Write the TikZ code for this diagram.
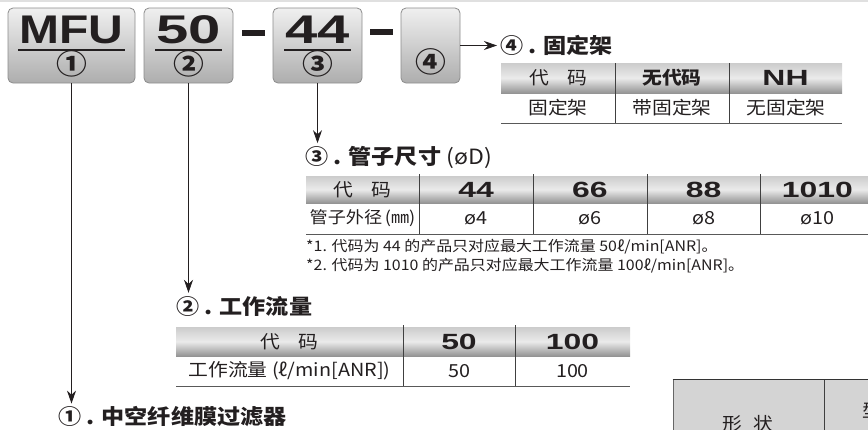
\documentclass[tikz,border=0pt]{standalone}
\usepackage{fontspec}
\setmainfont{Noto Sans CJK SC}[FakeStretch=1.1]
\newfontfamily\codefont{Liberation Sans}[FakeStretch=1.45]
\newfontfamily\mfufont{Liberation Sans}[FakeStretch=1.2]
\usetikzlibrary{positioning, arrows.meta}
\definecolor{ink}{HTML}{231F20}

\begin{document}
\begin{tikzpicture}[x=1pt, y=-1pt, every node/.style={text=ink},
  codebox/.style={draw=black!45, line width=0.8pt, rounded corners=5pt, top color=black!6, bottom color=black!32, minimum height=75pt, inner sep=0pt, outer sep=0pt},
  dashbar/.style={fill=ink, minimum width=23pt, minimum height=6pt, inner sep=0pt},
  codetxt/.style={font=\fontsize{40}{40}\selectfont\bfseries, inner xsep=1pt, inner ysep=0pt},
  numtxt/.style={font=\fontsize{28}{28}\selectfont\bfseries, inner sep=0pt},
  uline/.style={ink, line width=1.6pt},
  arr/.style={-{Stealth[length=13pt, width=9pt]}, draw=ink, line width=0.8pt},
  title/.style={font=\fontsize{21}{21}\selectfont\bfseries, anchor=west, inner sep=3pt},
  cell/.style={font=\fontsize{18}{18}\selectfont, inner sep=0pt},
  hcode/.style={font=\fontsize{22}{22}\selectfont\codefont\bfseries, inner sep=0pt},
  note/.style={font=\fontsize{14.5}{14.5}\selectfont, anchor=west, inner sep=0pt},
  head/.style={top color=black!20, bottom color=black!42, middle color=black!8},
  rule/.style={draw=black!75, line width=0.8pt},
  botline/.style={draw=black!65, line width=1pt}]
  \useasboundingbox (0,0) rectangle (868,429);
  \clip (0,0) rectangle (868,429);
  \draw[black!12, line width=1.5pt] (0,0.8) -- (868,0.8);

  % code boxes
  \node[codebox, minimum width=127pt] (mfu) at (71.5,45.5) {};
  \node[codebox, minimum width=89pt, right=9pt of mfu] (flow) {};
  \node[dashbar, right=9pt of flow, yshift=13pt] (dash1) {};
  \node[codebox, minimum width=89pt, right=40pt of flow] (tube) {};
  \node[dashbar, right=8pt of tube, yshift=14pt] (dash2) {};
  \node[codebox, minimum width=59pt, right=39pt of tube] (bracket) {};

  \node[codetxt, anchor=base, yshift=2.5pt] (mfutxt) at (mfu) {\mfufont MFU};
  \node[codetxt, anchor=base, yshift=2.5pt] (flowtxt) at (flow) {\codefont 50};
  \node[codetxt, anchor=base, yshift=2.5pt] (tubetxt) at (tube) {\codefont 44};
  \foreach \n in {mfutxt, flowtxt, tubetxt}
    \draw[uline] ([yshift=-7pt]\n.base west) -- ([yshift=-7pt]\n.base east);

  \node[numtxt, yshift=-18pt] (mfunum) at (mfu) {①};
  \node[numtxt, yshift=-18pt] (flownum) at (flow) {②};
  \node[numtxt, yshift=-18pt] (tubenum) at (tube) {③};
  \node[numtxt, yshift=-16.5pt] (bracketnum) at (bracket) {④};

  % titles
  \node[title] (t4) at (497,45) {④ . 固定架};
  \node[title] (t3) at (302,157.5) {③ . 管子尺寸 {\mdseries (øD)}};
  \node[title] (t2) at (173,306) {② . 工作流量};
  \node[title] (t1) at (55,417) {① . 中空纤维膜过滤器};

  \draw[arr] (bracket.east) -- (bracket.east -| t4.west);
  \draw[arr] (tube.south) -- (tube.south |- t3.north);
  \draw[arr] (flow.south) -- (flow.south |- t2.north);
  \draw[arr] (mfu.south) -- (mfu.south |- t1.north);

  % bracket table
  \shade[head] (501,63) rectangle (842,93);
  \draw[rule] (615,63) -- (615,123) (729,63) -- (729,123);
  \draw[botline] (501,123) -- (842,123);
  \node[cell] (bcode) at (558,78) {代\quad 码};
  \node[cell, font=\fontsize{18}{18}\selectfont\bfseries] (bnone) at (672,78) {无代码};
  \node[hcode] (bnh) at (785.5,78) {NH};
  \foreach \txt [count=\i from 0] in {固定架, 带固定架, 无固定架}
    \node[cell] (bval\i) at (558+114*\i,108) {\txt};

  % tube table
  \shade[head] (306,176) rectangle (880,203);
  \foreach \x in {419,533,647,760}
    \draw[rule] (\x,174) -- (\x,234);
  \draw[botline] (306,234) -- (880,234);
  \node[cell] (scode) at (362.5,189.5) {代\quad 码};
  \node[cell, font=\fontsize{16.5}{16.5}\selectfont] (sdia) at (362.5,218.5) {管子外径\,(㎜)};
  \foreach \c/\d [count=\i] in {44/4, 66/6, 88/8, 1010/10} {
    \node[hcode] (scode\c) at (362.5+113.7*\i,189.5) {\c};
    \node[cell] (sdia\c) at (362.5+113.7*\i,218.5) {ø\d};
  }
  \node[note] (note1) at (306,247) {*1. 代码为 44 的产品只对应最大工作流量 50ℓ/min[ANR]。};
  \node[note] (note2) at (306,266) {*2. 代码为 1010 的产品只对应最大工作流量 100ℓ/min[ANR]。};

  % flow table
  \shade[head] (176,327) rectangle (630,356);
  \draw[rule] (403,325) -- (403,386) (515,325) -- (515,386);
  \draw[botline] (176,386) -- (630,386);
  \node[cell] (fcode) at (289.5,341.5) {代\quad 码};
  \node[cell] (frate) at (289.5,371) {工作流量 (ℓ/min[ANR])};
  \foreach \v/\x in {50/459, 100/572.5} {
    \node[hcode] (fcode\v) at (\x,341.5) {\v};
    \node[cell] (frate\v) at (\x,371) {\v};
  }

  % shape table (cut off)
  \fill[black!17] (673,379.5) rectangle (900,440);
  \draw[black!60, line width=0.8pt] (673,379.5) -- (673,440);
  \draw[black!80, line width=1.6pt] (672.6,379.5) -- (900,379.5);
  \draw[rule] (824,379.5) -- (824,440);
  \node[cell] (shape) at (748,424) {形\hspace{0.6em}状};
  \node[cell] (model) at (872,410) {型};
\end{tikzpicture}
\end{document}
